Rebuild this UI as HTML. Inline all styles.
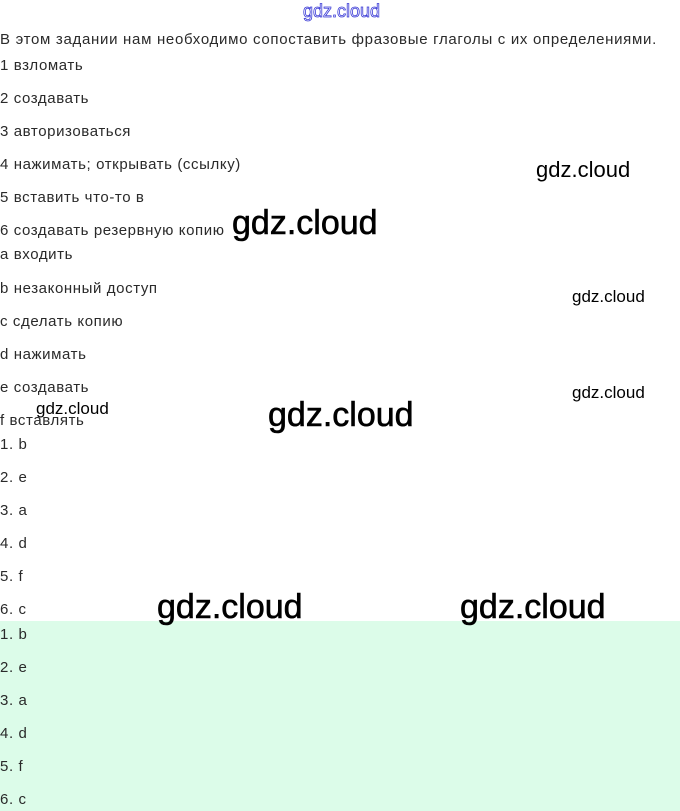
<!DOCTYPE html>
<html><head><meta charset="utf-8"><style>
body{margin:0;width:680px;height:811px;background:#fff;position:relative;overflow:hidden;font-family:"Liberation Sans",sans-serif;color:#2a2a2a}
.t{position:absolute;left:0;font-size:15px;letter-spacing:0.6px;line-height:18px;white-space:nowrap;transform:translateY(-8px)}
.w{position:absolute;white-space:nowrap;color:#000;line-height:1}
.green{position:absolute;left:0;top:621px;width:680px;height:190px;background:#dcfce9}
</style></head><body>
<div class="green"></div>
<div class="w" style="left:303px;top:2px;font-size:18px;color:#fff;-webkit-text-stroke:0.8px #3b3bd6">gdz.cloud</div>
<div class="t" style="top:39px;font-size:15px;letter-spacing:0.7px">В этом задании нам необходимо сопоставить фразовые глаголы с их определениями.</div>
<div class="t" style="top:65px">1 взломать</div>
<div class="t" style="top:98px">2 создавать</div>
<div class="t" style="top:131px">3 авторизоваться</div>
<div class="t" style="top:164px">4 нажимать; открывать (ссылку)</div>
<div class="t" style="top:197px">5 вставить что-то в</div>
<div class="t" style="top:230px">6 создавать резервную копию</div>
<div class="t" style="top:254px">a входить</div>
<div class="t" style="top:288px">b незаконный доступ</div>
<div class="t" style="top:321px">c сделать копию</div>
<div class="t" style="top:354px">d нажимать</div>
<div class="t" style="top:387px">e создавать</div>
<div class="t" style="top:420px">f вставлять</div>
<div class="t" style="top:444px">1. b</div>
<div class="t" style="top:477px">2. e</div>
<div class="t" style="top:510px">3. a</div>
<div class="t" style="top:543px">4. d</div>
<div class="t" style="top:576px">5. f</div>
<div class="t" style="top:609px">6. c</div>
<div class="t" style="top:634px">1. b</div>
<div class="t" style="top:667px">2. e</div>
<div class="t" style="top:700px">3. a</div>
<div class="t" style="top:733px">4. d</div>
<div class="t" style="top:766px">5. f</div>
<div class="t" style="top:799px">6. c</div>
<div class="w" style="left:536px;top:159px;font-size:22px">gdz.cloud</div>
<div class="w" style="left:232px;top:206px;font-size:34px;-webkit-text-stroke:0.6px #000">gdz.cloud</div>
<div class="w" style="left:572px;top:288px;font-size:17px">gdz.cloud</div>
<div class="w" style="left:572px;top:384px;font-size:17px">gdz.cloud</div>
<div class="w" style="left:36px;top:400px;font-size:17px">gdz.cloud</div>
<div class="w" style="left:268px;top:398px;font-size:34px;-webkit-text-stroke:0.6px #000">gdz.cloud</div>
<div class="w" style="left:157px;top:590px;font-size:34px;-webkit-text-stroke:0.6px #000">gdz.cloud</div>
<div class="w" style="left:460px;top:590px;font-size:34px;-webkit-text-stroke:0.6px #000">gdz.cloud</div>
</body></html>
